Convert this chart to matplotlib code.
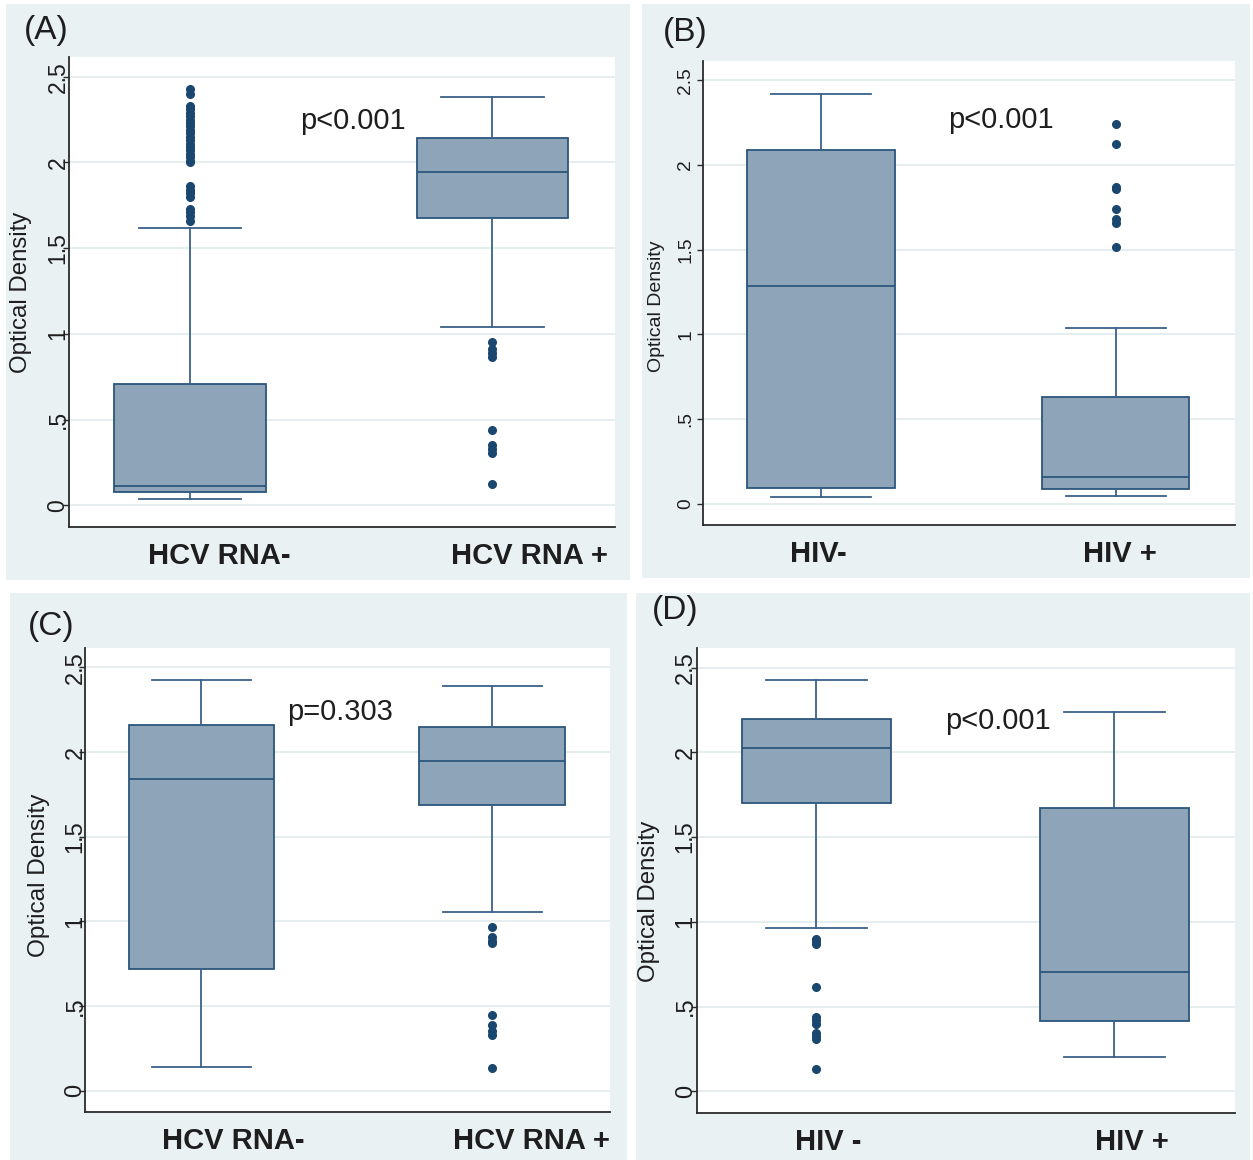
import matplotlib
matplotlib.use("Agg")
import matplotlib.pyplot as plt
from matplotlib.patches import Rectangle

plt.rcParams['font.family'] = ['Liberation Sans', 'DejaVu Sans']

W, H = 1253, 1160

# ---- data ----
hcv_groups = ['HCV RNA-', 'HCV RNA +']
hiv_groups_b = ['HIV-', 'HIV +']
hiv_groups_d = ['HIV -', 'HIV +']
yticks = [0, 0.5, 1, 1.5, 2, 2.5]
ytick_labels = ['0', '.5', '1', '1.5', '2', '2.5']

# (A) HCV RNA- / HCV RNA +
a_med = [0.11, 1.946]
a_q1 = [0.075, 1.675]
a_q3 = [0.71, 2.145]
a_lo = [0.038, 1.042]
a_hi = [1.62, 2.38]
a_out_neg = [2.43, 2.40, 2.33, 2.31, 2.29, 2.27, 2.25, 2.23, 2.21, 2.19, 2.17,
             2.15, 2.13, 2.11, 2.09, 2.07, 2.05, 2.03, 2.01, 2.00,
             1.86, 1.84, 1.82, 1.80, 1.73, 1.71, 1.69, 1.66]
a_out_pos = [0.955, 0.91, 0.89, 0.865, 0.437, 0.354, 0.33, 0.307, 0.124]
a_p = 'p<0.001'

# (B) HIV- / HIV +
b_med = [1.288, 0.154]
b_q1 = [0.09, 0.083]
b_q3 = [2.09, 0.63]
b_lo = [0.037, 0.043]
b_hi = [2.42, 1.04]
b_out_neg = []
b_out_pos = [2.24, 2.126, 1.87, 1.86, 1.74, 1.68, 1.66, 1.516]
b_p = 'p<0.001'

# (C) HCV RNA- / HCV RNA +
c_med = [1.84, 1.949]
c_q1 = [0.716, 1.685]
c_q3 = [2.158, 2.15]
c_lo = [0.138, 1.053]
c_hi = [2.424, 2.388]
c_out_neg = []
c_out_pos = [0.964, 0.91, 0.885, 0.873, 0.444, 0.385, 0.35, 0.326, 0.133]
c_p = 'p=0.303'

# (D) HIV - / HIV +
d_med = [2.024, 0.706]
d_q1 = [1.702, 0.414]
d_q3 = [2.196, 1.673]
d_lo = [0.963, 0.2015]
d_hi = [2.424, 2.235]
d_out_neg = [0.90, 0.885, 0.87, 0.616, 0.44, 0.42, 0.40, 0.344, 0.325, 0.307, 0.133]
d_out_pos = []
d_p = 'p<0.001'

# ---- styling ----
BG = '#eaf1f3'
GRID = '#e4ecee'
FILL = '#8ea4b8'
EDGE = '#2c557c'
WHISK = '#3b6189'
DOT = '#1a476f'
TXT = '#1e1e1e'


def px_rect(l, t, r, b):
    return [l / W, 1 - b / H, (r - l) / W, (b - t) / H]


fig = plt.figure(figsize=(W / 100, H / 100), dpi=100)
fig.patch.set_facecolor('white')

panels = [(6, 4, 630, 580), (642, 4, 1250, 578), (10, 593, 627, 1160), (636, 593, 1250, 1160)]
for l, t, r, b in panels:
    fig.patches.append(Rectangle((l / W, 1 - b / H), (r - l) / W, (b - t) / H,
                                 transform=fig.transFigure, facecolor=BG,
                                 edgecolor='none', zorder=-5))


def draw_panel(rect, groups, med, q1, q3, lo, hi, outs, lab_pos, tick_fs, ylab_fs,
               tick_pad, ylab_xy):
    ax = fig.add_axes(px_rect(*rect))
    ax.set_zorder(1)
    ax.set_facecolor('white')
    stats = []
    for i in range(2):
        stats.append(dict(med=med[i], q1=q1[i], q3=q3[i], whislo=lo[i], whishi=hi[i],
                          fliers=outs[i], label=groups[i]))
    ax.bxp(stats, positions=[1, 2], widths=0.5, capwidths=0.34, patch_artist=True,
           manage_ticks=False,
           boxprops=dict(facecolor=FILL, edgecolor=EDGE, linewidth=1.3),
           whiskerprops=dict(color=WHISK, linewidth=1.3),
           capprops=dict(color=WHISK, linewidth=1.3),
           medianprops=dict(color=EDGE, linewidth=1.3),
           flierprops=dict(marker='o', markerfacecolor=DOT, markeredgecolor=DOT,
                           markersize=5.5, linestyle='none'))
    ax.set_xlim(0.6, 2.405)
    ax.set_ylim(-0.127, 2.615)
    ax.set_yticks(yticks, ytick_labels)
    ax.tick_params(axis='y', length=4, width=1, colors='#2b2b2b', labelsize=tick_fs,
                   pad=tick_pad, labelcolor=TXT)
    plt.setp(ax.get_yticklabels(), rotation=90, va='center')
    ax.set_xticks(lab_pos, groups)
    ax.tick_params(axis='x', length=0, labelsize=21, pad=11, labelcolor=TXT)
    plt.setp(ax.get_xticklabels(), fontweight='bold')
    ax.yaxis.grid(True, color=GRID, linewidth=1.3)
    ax.set_axisbelow(True)
    for s in ('top', 'right'):
        ax.spines[s].set_visible(False)
    for s in ('left', 'bottom'):
        ax.spines[s].set_color('#2b2b2b')
        ax.spines[s].set_linewidth(1.3)
    ax.set_ylabel('Optical Density', fontsize=ylab_fs, color=TXT)
    ax.yaxis.set_label_coords(*ylab_xy)
    return ax


draw_panel((69, 57, 615, 527), hcv_groups, a_med, a_q1, a_q3, a_lo, a_hi,
           [a_out_neg, a_out_pos], [1.096, 2.123], 16.5, 17.3, -4.3, (-0.068, 0.5))
draw_panel((703, 61, 1235, 525), hiv_groups_b, b_med, b_q1, b_q3, b_lo, b_hi,
           [b_out_neg, b_out_pos], [0.99, 2.014], 13.8, 14, 2.2, (-0.071, 0.472))
draw_panel((85, 648, 610, 1112), hcv_groups, c_med, c_q1, c_q3, c_lo, c_hi,
           [c_out_neg, c_out_pos], [1.11, 2.134], 17, 17.6, -5, (-0.067, 0.511))
draw_panel((697, 648, 1235, 1113), hiv_groups_d, d_med, d_q1, d_q3, d_lo, d_hi,
           [d_out_neg, d_out_pos], [1.04, 2.06], 17, 17.3, -3.8, (-0.069, 0.456))

# p-values and panel letters
for txt, x, y in [(a_p, 353, 121), (b_p, 1001, 120), (c_p, 340, 712), (d_p, 998, 721)]:
    fig.text(x / W, 1 - y / H, txt, fontsize=21, ha='center', va='center', color=TXT,
             zorder=5)
for txt, x, y in [('(A)', 46, 30), ('(B)', 685, 32), ('(C)', 51, 626), ('(D)', 675, 611)]:
    fig.text(x / W, 1 - y / H, txt, fontsize=24, ha='center', va='center', color=TXT,
             zorder=5)

fig.savefig('out.png', dpi=100)
